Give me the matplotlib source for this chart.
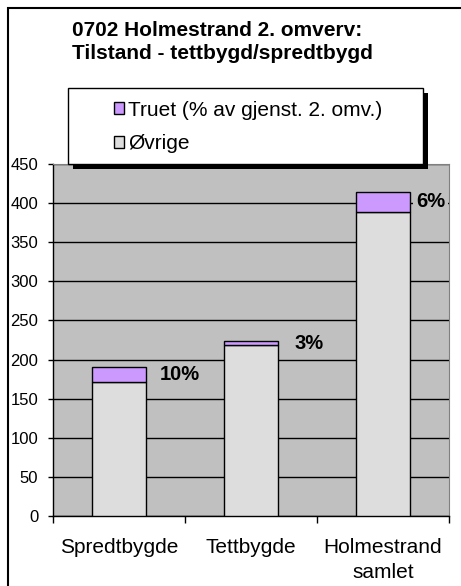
import numpy as np
import matplotlib.pyplot as plt
from matplotlib.patches import Rectangle, Patch

plt.rcParams['font.family'] = ['Liberation Sans', 'DejaVu Sans']

# data
categories = ['Spredtbygde', 'Tettbygde', 'Holmestrand\nsamlet']
ovrige = [171, 218, 389]
truet = [19, 6, 25]
pct_labels = ['10%', '3%', '6%']
yticks = [0, 50, 100, 150, 200, 250, 300, 350, 400, 450]
title = '0702 Holmestrand 2. omverv:\nTilstand - tettbygd/spredtbygd'
legend_labels = ['Truet (% av gjenst. 2. omv.)', 'Øvrige']

c_truet = '#CC99FF'
c_ovrige = '#DDDDDD'
c_plot = '#C0C0C0'

W, H = 461, 586
fig = plt.figure(figsize=(W / 100, H / 100), dpi=100)

def fx(px):
    return px / W

def fy(py):
    return 1 - py / H

# outer chart border (runs off the image on right/bottom)
fig.patches.append(Rectangle((fx(8), -0.1), 1.2, fy(8) + 0.1, transform=fig.transFigure,
                             fill=False, edgecolor='black', lw=1.5))

ax = fig.add_axes([fx(53), fy(516), fx(449) - fx(53), fy(164) - fy(516)])
ax.set_facecolor(c_plot)

x = np.arange(len(categories))
bw = 0.41
ax.bar(x, ovrige, bw, color=c_ovrige, edgecolor='black', lw=1, zorder=3)
ax.bar(x, truet, bw, bottom=ovrige, color=c_truet, edgecolor='black', lw=1, zorder=3)

# percent labels to the right of the "truet" segment
label_dx = [14, 16, 6]
for i in range(len(categories)):
    ax.annotate(pct_labels[i], xy=(x[i] + bw / 2, ovrige[i] + truet[i] / 2),
                xytext=(label_dx[i], 0), textcoords='offset pixels',
                ha='left', va='center', fontsize=14.5, fontweight='bold', zorder=4,
                bbox=dict(boxstyle='square,pad=0.15', fc=c_plot, ec='none'))

ax.set_xlim(-0.5, 2.5)
ax.set_ylim(0, 450)
ax.set_yticks(yticks)
ax.set_xticks(x)
ax.set_xticklabels(categories, fontsize=15, linespacing=1.4)
ax.set_xticks([-0.5, 0.5, 1.5, 2.5], minor=True)
ax.tick_params(axis='x', which='major', length=0, pad=16)
ax.tick_params(axis='x', which='minor', length=5, width=1, direction='out')
ax.tick_params(axis='y', length=3.6, width=1, direction='out', pad=7, labelsize=12)
ax.yaxis.grid(True, color='black', lw=1)
ax.set_axisbelow(True)
for s in ['top', 'right']:
    ax.spines[s].set_color('#808080')
for s in ['left', 'bottom']:
    ax.spines[s].set_color('black')
    ax.spines[s].set_linewidth(1)

# title
fig.text(fx(72), fy(21), title, ha='left', va='top', fontsize=15, fontweight='bold',
         linespacing=1.25)

# legend box with shadow
lx0, ly0, lx1, ly1 = 68, 88, 423, 164
fig.patches.append(Rectangle((fx(lx0 + 5), fy(ly1 + 5)), fx(lx1 - lx0), fy(ly0) - fy(ly1),
                             transform=fig.transFigure, fc='black', ec='none', zorder=5))
fig.patches.append(Rectangle((fx(lx0), fy(ly1)), fx(lx1 - lx0), fy(ly0) - fy(ly1),
                             transform=fig.transFigure, fc='white', ec='black', lw=1, zorder=6))
handles = [Patch(fc=c_truet, ec='black', lw=1), Patch(fc=c_ovrige, ec='black', lw=1)]
leg = fig.legend(handles, legend_labels, loc='upper left', bbox_to_anchor=(fx(99), fy(86)),
                 frameon=False, fontsize=15, handlelength=0.5, handleheight=0.5,
                 handletextpad=0.2, labelspacing=0.7, borderpad=0.2)
leg.set_zorder(7)

fig.savefig('out.png', dpi=100)
